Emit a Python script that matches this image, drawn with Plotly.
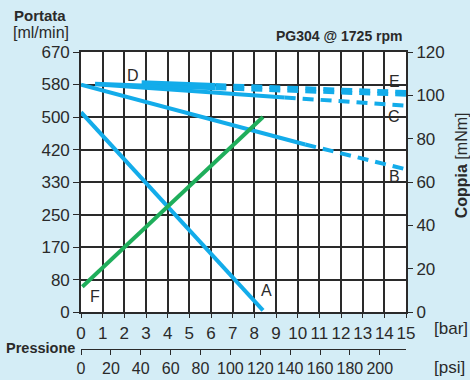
import plotly.graph_objects as go

# Pressure in bar, flow in ml/min (left axis), torque in mNm (right axis)
flow_ticks = [0, 80, 170, 250, 330, 420, 500, 580, 670]
bar_ticks = list(range(0, 16))
psi_ticks = [0, 20, 40, 60, 80, 100, 120, 140, 160, 180, 200]
torque_ticks = [0, 20, 40, 60, 80, 100, 120]

# curve A (flow)
a_p = [0.0, 8.4]
a_q = [515, 5]
# curve B (flow): solid part, then dashed extrapolation
b_p_solid = [0.0, 10.35]
b_q_solid = [586, 432]
b_p_dash = [10.35, 15.0]
b_q_dash = [432, 368]
# curve C
c_p_solid = [0.65, 9.4]
c_q_solid = [587, 553]
c_p_dash = [9.4, 15.0]
c_q_dash = [553, 532]
# curve D
d_p_solid = [0.65, 6.2]
d_q_solid = [588, 577]
d_p_dash = [6.2, 15.0]
d_q_dash = [577, 560]
# curve E
e_p_solid = [2.8, 6.2]
e_q_solid = [592, 585]
e_p_dash = [6.2, 15.0]
e_q_dash = [585, 567]
# curve F (torque)
f_p = [0.06, 8.4]
f_t = [11.8, 90]

BAR_TO_PSI = 14.5038
FLOW_MAX = 670
TORQUE_MAX = 120

BLUE = "#13acea"
GREEN = "#1fae5b"
BG = "#d4edf6"
INK = "#2a2a2a"
FONT = "Liberation Sans Narrow, Arial Narrow, Liberation Sans, Arial, sans-serif"

W, H = 470, 380
ML, MR, MT, MB = 80.7, 64.3, 52, 31
PW, PH = W - ML - MR, H - MT - MB
# lower edge of the main plot sits above the psi scale
Y_DOMAIN_LOW = (349 - 312.3) / PH


def px(x, y):
    """Pixel position -> paper coordinates."""
    return (x - ML) / PW, (H - MB - y) / PH


fig = go.Figure()

solid = dict(color=BLUE, width=4)
dashed = dict(color=BLUE, width=4, dash="11px,7px")

fig.add_trace(go.Scatter(x=a_p, y=a_q, mode="lines", line=solid))
fig.add_trace(go.Scatter(x=b_p_solid, y=b_q_solid, mode="lines", line=solid))
fig.add_trace(go.Scatter(x=b_p_dash, y=b_q_dash, mode="lines", line=dashed))
fig.add_trace(go.Scatter(x=c_p_solid, y=c_q_solid, mode="lines", line=solid))
fig.add_trace(go.Scatter(x=c_p_dash, y=c_q_dash, mode="lines", line=dashed))
fig.add_trace(go.Scatter(x=d_p_solid, y=d_q_solid, mode="lines", line=solid))
fig.add_trace(go.Scatter(x=d_p_dash, y=d_q_dash, mode="lines", line=dashed))
fig.add_trace(go.Scatter(x=e_p_solid, y=e_q_solid, mode="lines", line=solid))
fig.add_trace(go.Scatter(x=e_p_dash, y=e_q_dash, mode="lines", line=dashed))
fig.add_trace(go.Scatter(x=f_p, y=f_t, mode="lines", line=dict(color=GREEN, width=4), yaxis="y2"))
# psi scale carrier (no visible marks)
fig.add_trace(go.Scatter(x=[0, 15 * BAR_TO_PSI], y=[None, None], mode="lines",
                         xaxis="x2", hoverinfo="skip"))

tick_font = dict(family=FONT, size=17, color=INK)

fig.update_layout(
    width=W, height=H,
    margin=dict(l=ML, r=MR, t=MT, b=MB, autoexpand=False),
    paper_bgcolor=BG, plot_bgcolor="white",
    showlegend=False,
    font=dict(family=FONT, color=INK),
    xaxis=dict(range=[0, 15], tickvals=bar_ticks, showgrid=True, gridcolor=INK, gridwidth=1.6,
               showline=True, linecolor=INK, linewidth=1.6, mirror=True,
               ticks="outside", ticklen=4, tickcolor=INK, tickfont=tick_font, tickangle=0,
               zeroline=False, anchor="y", automargin=False),
    xaxis2=dict(range=[0, 15 * BAR_TO_PSI], tickvals=psi_ticks, overlaying="x",
                anchor="free", position=0, side="bottom", showgrid=False,
                showline=True, linecolor=INK, linewidth=1.2,
                ticks="outside", ticklen=5, tickcolor=INK,
                tickfont=dict(family=FONT, size=16, color=INK), tickangle=0,
                zeroline=False, automargin=False),
    yaxis=dict(range=[0, FLOW_MAX], domain=[Y_DOMAIN_LOW, 1],
               tickvals=[i * FLOW_MAX / 8 for i in range(9)], ticktext=[str(v) for v in flow_ticks],
               showgrid=True, gridcolor=INK, gridwidth=1.6,
               showline=True, linecolor=INK, linewidth=1.6, mirror=True,
               ticks="outside", ticklen=6, tickcolor=INK, tickfont=tick_font,
               zeroline=False, automargin=False),
    yaxis2=dict(range=[0, TORQUE_MAX], tickvals=torque_ticks, overlaying="y", side="right",
                anchor="x", showgrid=False, ticks="outside", ticklen=6, tickcolor=INK,
                tickfont=tick_font, zeroline=False, automargin=False),
)

annotations = []


def label(text, x, y, size=15, xanchor="center", bold=False, xref="paper", yref="paper", **kw):
    annotations.append(dict(text=f"<b>{text}</b>" if bold else text, x=x, y=y, xref=xref, yref=yref,
                            showarrow=False, xanchor=xanchor, yanchor="middle",
                            font=dict(family=FONT, size=size, color=INK), **kw))


# curve labels in data coordinates
for name, xb, q in [("D", 2.41, 609), ("E", 14.46, 595), ("C", 14.46, 504),
                    ("B", 14.46, 349), ("A", 8.58, 56), ("F", 0.66, 40)]:
    label(name, xb, q, size=16, xref="x", yref="y")

x, y = px(12, 15); label("Portata", x, y, size=15, xanchor="left", bold=True)
x, y = px(11, 33); label("[ml/min]", x, y, size=16, xanchor="left")
x, y = px(405, 36); label("PG304 @ 1725 rpm", x, y, size=14, xanchor="right", bold=True)
x, y = px(432, 328); label("[bar]", x, y, size=17, xanchor="left")
x, y = px(4, 348); label("Pressione", x, y, size=14.5, xanchor="left", bold=True)
x, y = px(432, 367); label("[psi]", x, y, size=17, xanchor="left")
x, y = px(461, 165); label("<b>Coppia</b> [mNm]", x, y, size=16, textangle=-90)

fig.update_layout(annotations=annotations)
fig.write_html("out.html")
